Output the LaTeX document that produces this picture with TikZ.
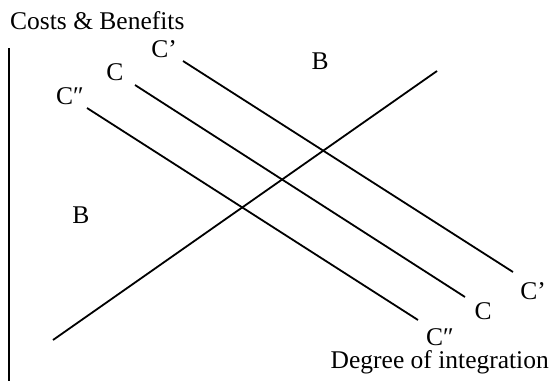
\documentclass[tikz,border=0pt]{standalone}
\usepackage{fontspec}
\setmainfont{Liberation Serif}
\begin{document}
\begin{tikzpicture}[x=1pt,y=-1pt,
  curve/.style={line width=1.8pt,black},
  lbl/.style={inner sep=0pt,font=\fontsize{25.5}{30}\selectfont}]
\useasboundingbox (0,0) rectangle (551,380);
% axis
\coordinate (ax1) at (9,48);
\coordinate (ax2) at (9,381);
\draw[curve] (ax1) -- (ax2);
% benefit line
\coordinate (b1) at (53,340);
\coordinate (b2) at (437,71);
\draw[curve] (b1) -- (b2);
% cost lines
\coordinate (cp1) at (183,61);
\coordinate (cp2) at (513,272);
\draw[curve] (cp1) -- (cp2);
\coordinate (c1) at (135,85);
\coordinate (c2) at (465,297);
\draw[curve] (c1) -- (c2);
\coordinate (cpp1) at (87,108);
\coordinate (cpp2) at (418,320);
\draw[curve] (cpp1) -- (cpp2);
% labels
\node[lbl,anchor=base west] (yl) at (10,29) {Costs \& Benefits};
\node[lbl,anchor=base east] (xl) at (549,368) {Degree of integration};
\node[lbl] (bl) at (81,215) {B};
\node[lbl] (bt) at (320,61) {B};
\node[lbl] (lcp1) at (164,49) {C’};
\node[lbl] (lc1) at (115,72) {C};
\node[lbl] (lcpp1) at (70,96) {C″};
\node[lbl] (lcp2) at (533,291) {C’};
\node[lbl] (lc2) at (483,311) {C};
\node[lbl] (lcpp2) at (440,337) {C″};
\end{tikzpicture}
\end{document}
